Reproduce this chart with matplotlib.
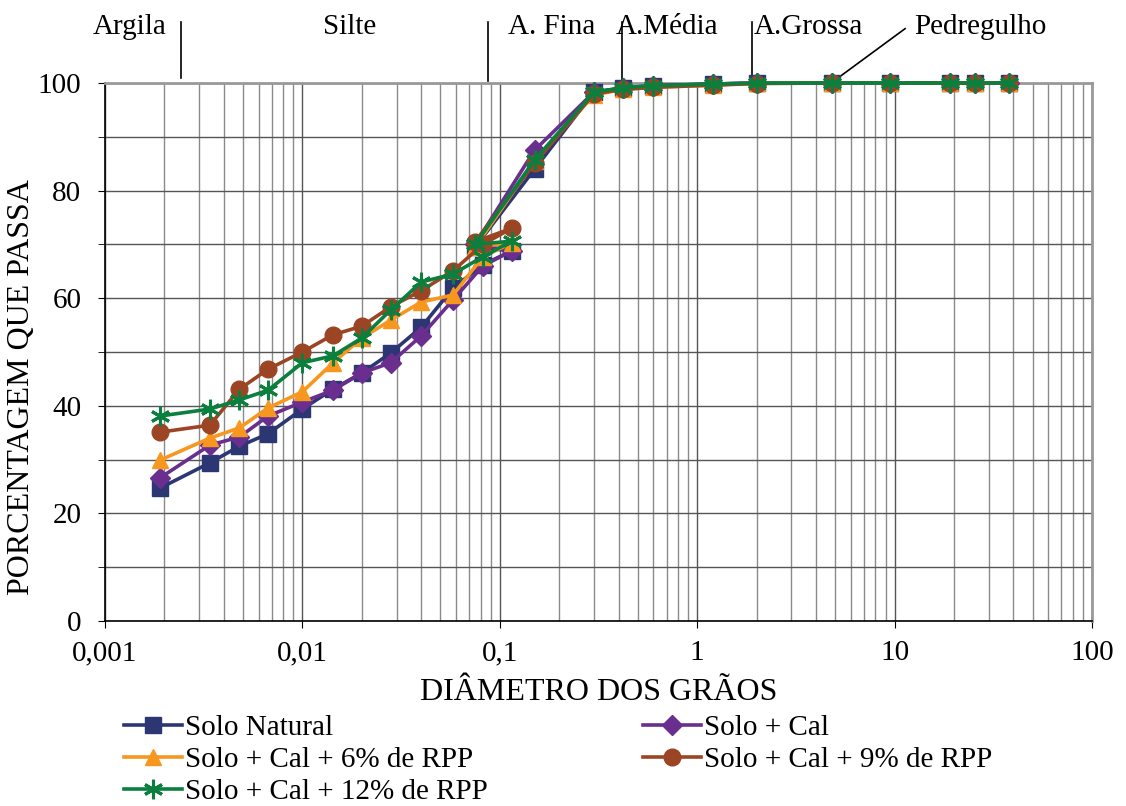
import numpy as np
import matplotlib
matplotlib.use("Agg")
import matplotlib.pyplot as plt
import matplotlib.ticker as mticker
import matplotlib.transforms as mtransforms

plt.rcParams['font.family'] = ['Liberation Serif', 'DejaVu Serif']

# sieve diameters (mm) and hydrometer (sedimentation) diameters (mm)
sieve_d = [38.1, 25.4, 19.1, 9.5, 4.8, 2.0, 1.2, 0.6, 0.42, 0.3, 0.15, 0.075]
sed_d = [0.115, 0.082, 0.058, 0.040, 0.028, 0.020, 0.0143, 0.0100, 0.0067, 0.0048, 0.0034, 0.0019]

natural_sieve = [100, 100, 100, 100, 100, 100, 99.8, 99.5, 99.1, 98.3, 84.0, 69.5]
natural_sed = [68.8, 66.2, 61.9, 54.6, 49.8, 46.1, 43.1, 39.4, 34.8, 32.5, 29.4, 24.7]

cal_sieve = [100, 100, 100, 100, 100, 100, 99.8, 99.5, 99.0, 98.3, 87.5, 70.0]
cal_sed = [68.8, 66.0, 59.7, 53.0, 48.0, 46.1, 42.9, 40.7, 38.1, 34.2, 32.7, 26.6]

rpp6_sieve = [100, 100, 100, 100, 100, 100, 99.6, 99.2, 98.8, 97.8, 85.5, 69.5]
rpp6_sed = [70.3, 67.7, 60.6, 59.3, 55.9, 52.6, 48.0, 42.6, 39.6, 35.9, 34.0, 29.9]

rpp9_sieve = [100, 100, 100, 100, 100, 99.9, 99.6, 99.2, 98.8, 98.0, 85.1, 70.5]
rpp9_sed = [73.0, 70.0, 65.1, 61.4, 58.4, 54.8, 53.2, 50.0, 46.8, 43.1, 36.4, 35.1]

rpp12_sieve = [100, 100, 100, 100, 100, 100, 99.8, 99.5, 99.1, 98.3, 85.7, 70.0]
rpp12_sed = [70.6, 67.7, 64.5, 63.0, 57.8, 52.6, 49.3, 48.0, 42.9, 41.1, 39.4, 38.1]

labels = ["Solo Natural", "Solo + Cal", "Solo + Cal + 6% de RPP",
          "Solo + Cal + 9% de RPP", "Solo + Cal + 12% de RPP"]
colors = ["#2B3673", "#6A2F8E", "#F7971F", "#9C4524", "#0B7F3E"]
markers = ["s", "D", "^", "o", (6, 2, 0)]
sizes = [11, 10, 12, 12, 14]
series = [(natural_sieve, natural_sed), (cal_sieve, cal_sed), (rpp6_sieve, rpp6_sed),
          (rpp9_sieve, rpp9_sed), (rpp12_sieve, rpp12_sed)]

fig = plt.figure(figsize=(11.26, 8.06), dpi=100)
ax = fig.add_axes([105/1126, 1-621/806, (1092-105)/1126, (621-83)/806])

handles = []
for (sv, sd), lab, c, m, s in zip(series, labels, colors, markers, sizes):
    x = sieve_d + sed_d
    y = sv + sd
    h, = ax.plot(x, y, color=c, lw=2.6, marker=m, ms=s, mec=c, mfc=c,
                 mew=2.2 if m == markers[4] else 1.0, label=lab, clip_on=False, zorder=3)
    handles.append(h)

ax.set_xscale("log")
ax.set_xlim(0.001, 100)
ax.set_ylim(0, 100)

ax.xaxis.set_major_locator(mticker.LogLocator(base=10))
ax.xaxis.set_minor_locator(mticker.LogLocator(base=10, subs=np.arange(2, 10)))
ax.xaxis.set_minor_formatter(mticker.NullFormatter())
ax.xaxis.set_major_formatter(mticker.FuncFormatter(
    lambda v, p: ("%g" % v).replace(".", ",")))
ax.yaxis.set_major_locator(mticker.MultipleLocator(20))
ax.yaxis.set_minor_locator(mticker.MultipleLocator(10))

ax.grid(which="major", axis="x", color="#555555", lw=1.0)
ax.grid(which="minor", axis="x", color="#8a8a8a", lw=1.0)
ax.grid(which="both", axis="y", color="#555555", lw=1.0)
ax.set_axisbelow(True)

ax.tick_params(which="both", direction="out", labelsize=21, colors="black", length=5)
ax.tick_params(axis="y", which="both", pad=12)
ax.tick_params(axis="x", which="major", pad=9)
ax.tick_params(which="minor", axis="x", length=0)
for sp in ["top", "right"]:
    ax.spines[sp].set_color("#999999")
    ax.spines[sp].set_linewidth(2)
ax.spines["left"].set_linewidth(1.2)
ax.spines["bottom"].set_linewidth(1.2)

ax.set_xlabel("DIÂMETRO DOS GRÃOS", fontsize=23)
ax.set_ylabel("PORCENTAGEM QUE PASSA", fontsize=23)
ax.xaxis.set_label_coords(0.5, -(692 - 621) / 538, transform=ax.transAxes)
ax.yaxis.set_label_coords(-(105 - 22) / 987, (621 - 387) / 538, transform=ax.transAxes)
ax.xaxis.label.set_va("center")
ax.yaxis.label.set_va("center")

# granulometric class labels above the chart
trans = mtransforms.blended_transform_factory(ax.transData, ax.transAxes)
class_names = ["Argila", "Silte", "A. Fina", "A.Média", "A.Grossa", "Pedregulho"]
class_x = [0.00134, 0.0174, 0.184, 0.703, 3.64, 27.1]
for t, xx in zip(class_names, class_x):
    ax.text(xx, 1.104, t, transform=trans, ha="center", va="center", fontsize=21)
for xx, y0 in [(0.00243, 1.009), (0.087, 1.004), (0.416, 1.0), (1.89, 1.0)]:
    ax.plot([xx, xx], [y0, 1.113], color="black", lw=1.2, transform=trans, clip_on=False)
ax.plot([11.3, 4.77], [1.101, 1.0], color="black", lw=1.2, transform=trans, clip_on=False)

order = [0, 2, 4, 1, 3]
fig.legend([handles[i] for i in order], [labels[i] for i in order],
           loc="upper left", bbox_to_anchor=(124/1126, 1-715/806), ncol=2,
           frameon=False, fontsize=21, handlelength=2.0, handletextpad=0.1,
           columnspacing=5.3, labelspacing=0.18, borderaxespad=0, borderpad=0)

fig.savefig("out.png", dpi=100)
